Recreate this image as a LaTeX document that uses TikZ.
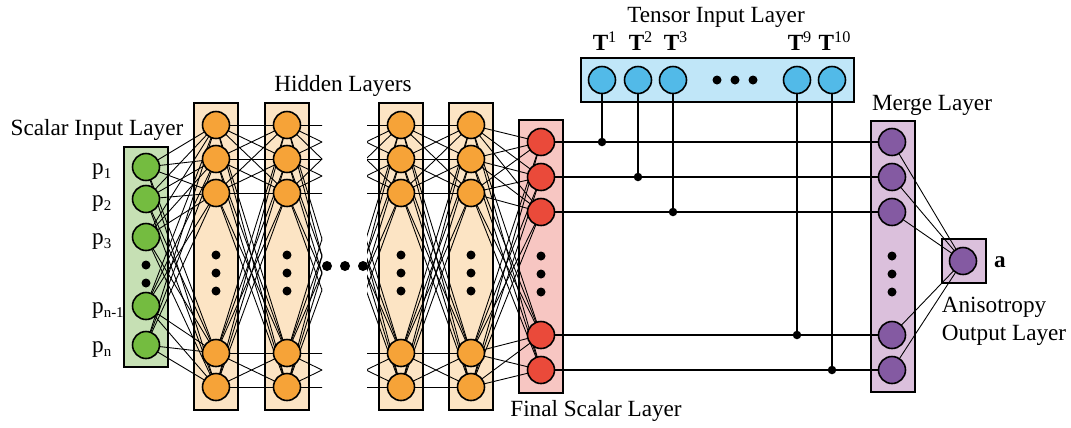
\documentclass[tikz,border=0pt]{standalone}
\usepackage{fontspec}
\setmainfont{Liberation Serif}
\usetikzlibrary{positioning,calc}
\definecolor{sclbox}{RGB}{198,224,180}
\definecolor{sclnode}{RGB}{116,188,64}
\definecolor{hidbox}{RGB}{252,228,196}
\definecolor{hidnode}{RGB}{246,163,56}
\definecolor{finbox}{RGB}{247,198,194}
\definecolor{finnode}{RGB}{234,74,58}
\definecolor{tnsbox}{RGB}{192,230,248}
\definecolor{tnsnode}{RGB}{82,186,232}
\definecolor{mrgbox}{RGB}{219,192,220}
\definecolor{mrgnode}{RGB}{132,90,162}

\pgfdeclarelayer{boxes}
\pgfdeclarelayer{edges}
\pgfsetlayers{boxes,edges,main}

\newcommand{\psub}[1]{p\raisebox{-0.45ex}{\fontsize{8.5}{9}\selectfont #1}}

\begin{document}
\begin{tikzpicture}[
  x=0.02cm, y=-0.02cm,
  font=\fontsize{13.2}{16}\selectfont,
  neuron/.style={circle, draw, line width=0.9pt,
                 minimum size=0.54cm, inner sep=0pt},
  layerbox/.style={draw, line width=1.1pt, inner sep=0pt},
  vdot/.style={circle, fill=black, minimum size=0.18cm, inner sep=0pt},
  jdot/.style={circle, fill=black, minimum size=0.17cm, inner sep=0pt},
  wire/.style={line width=0.5pt},
]
\useasboundingbox (0,0) rectangle (1071,427);

%% --- Layer boxes ---
\begin{pgfonlayer}{boxes}
\node[layerbox, fill=sclbox, minimum width=0.88cm, minimum height=4.4cm] (sbox) at (146,257) {};
\foreach \n/\x in {a/216, b/287, c/401, d/471}{
  \node[layerbox, fill=hidbox, minimum width=0.88cm, minimum height=6.14cm] (h\n box) at (\x,256.5) {};
}
\node[layerbox, fill=finbox, minimum width=0.88cm, minimum height=5.46cm] (fbox) at (541,256.5) {};
\node[layerbox, fill=tnsbox, minimum width=5.46cm, minimum height=0.88cm] (tbox) at (717.5,80) {};
\node[layerbox, fill=mrgbox, minimum width=0.88cm, minimum height=5.42cm] (mbox) at (893,256.5) {};
\node[layerbox, fill=mrgbox, minimum width=0.88cm, minimum height=0.88cm] (obox) at (964,261) {};
\end{pgfonlayer}

%% --- Neurons ---
\foreach \i/\y in {1/167, 2/199, 3/237, 4/306, 5/345}
  \node[neuron, fill=sclnode] (s\i) at (146,\y) {};
\foreach \n/\x in {a/216, b/287, c/401, d/471}
  \foreach \i/\y in {1/125, 2/159, 3/193, 4/353, 5/387}
    \node[neuron, fill=hidnode] (h\n\i) at (\x,\y) {};
\foreach \i/\y in {1/142, 2/177, 3/212, 4/335, 5/370}{
  \node[neuron, fill=finnode] (f\i) at (541,\y) {};
  \node[neuron, fill=mrgnode] (m\i) at (892,\y) {};
}
\foreach \i/\x/\k in {1/602/1, 2/638/2, 3/673/3, 4/797/9, 5/832/10}{
  \node[neuron, fill=tnsnode] (t\i) at (\x,80) {};
  \node (tl\i) at (\x+3,41) {\textbf{T}\textsuperscript{\k}};
}
\node[neuron, fill=mrgnode] (o) at (963,261) {};

% ends of the stubs toward the left-out layers
\foreach \j/\y in {1/125, 2/159, 3/193, 4/353, 5/387}{
  \coordinate (vb\j) at (357,\y);
  \coordinate (vc\j) at (331,\y);
}

%% --- Vertical dots ---
\foreach \y in {265, 283}
  \node[vdot] at (146,\y) {};
\foreach \x in {216, 287, 401, 471}
  \foreach \y in {255, 273, 291}
    \node[vdot] at (\x,\y) {};
\foreach \x in {541, 892}
  \foreach \y in {256, 274, 292}
    \node[vdot] at (\x,\y) {};
\foreach \x in {327, 345, 363}
  \node[vdot, minimum size=0.2cm] at (\x,266) {};
\foreach \x in {717, 735, 753}
  \node[vdot] at (\x,80) {};

%% --- Junctions ---
\foreach \i in {1,...,5}
  \node[jdot] (j\i) at (t\i |- f\i) {};

%% --- Connections ---
\begin{pgfonlayer}{edges}
\foreach \i in {1,...,5}
  \foreach \j in {1,...,5}{
    \draw[wire] (s\i.center) -- (ha\j.center);
    \draw[wire] (ha\i.center) -- (hb\j.center);
    \draw[wire] (hc\i.center) -- (hd\j.center);
    \draw[wire] (hd\i.center) -- (f\j.center);
  }
\begin{scope}
  \clip (250,0) rectangle (322,427);
  \foreach \i in {1,...,5}
    \foreach \j in {1,...,5}
      \draw[wire] (hb\i.center) -- (vb\j);
\end{scope}
\begin{scope}
  \clip (367,0) rectangle (420,427);
  \foreach \i in {1,...,5}
    \foreach \j in {1,...,5}
      \draw[wire] (vc\j) -- (hc\i.center);
\end{scope}
\foreach \i in {1,...,5}{
  \draw[wire, line width=0.7pt] (f\i.center) -- (m\i.center);
  \draw[wire, line width=0.7pt] (t\i.center) -- (j\i.center);
  \draw[wire] (m\i.center) -- (o.center);
}
\end{pgfonlayer}

%% --- Labels ---
\node (scltitle) at (97,130) {Scalar Input Layer};
\node (hidtitle) at (343,86) {Hidden Layers};
\node (tnstitle) at (716,17) {Tensor Input Layer};
\node (mrgtitle) at (932,105) {Merge Layer};
\node (fintitle) at (596,411) {Final Scalar Layer};
\node[align=left] (outtitle) at (1004,321) {Anisotropy\\Output Layer};
\node (alabel) at (1000,262) {\textbf{a}};
\foreach \i/\y/\k in {1/167/1, 2/199/2, 3/237/3, 4/306/n-1, 5/345/n}
  \node[anchor=west] (pl\i) at (86,\y+4) {\psub{\k}};

\end{tikzpicture}
\end{document}
